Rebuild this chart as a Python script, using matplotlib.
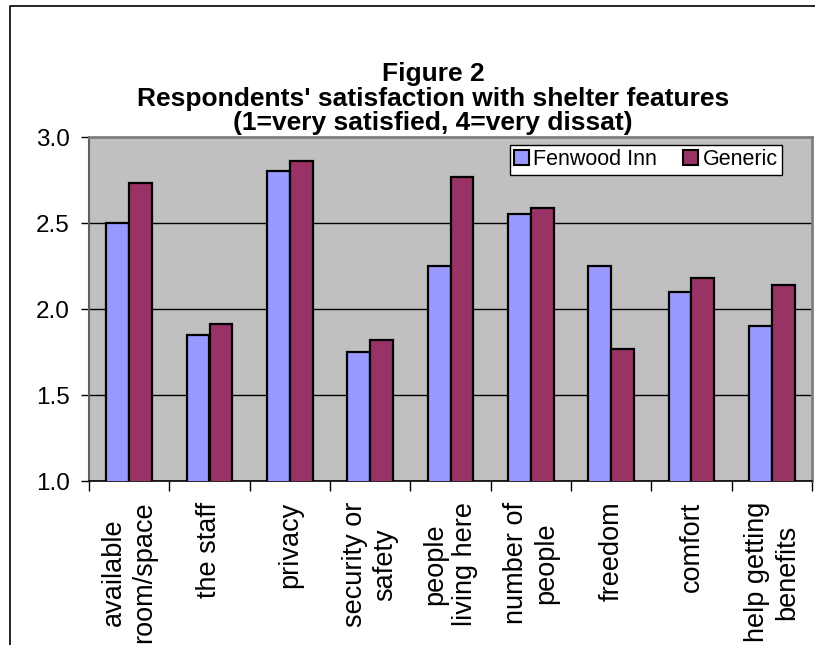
import numpy as np
import matplotlib
matplotlib.use("Agg")
import matplotlib.pyplot as plt
from matplotlib.patches import Patch
from matplotlib.lines import Line2D

# data
categories = ["available\nroom/space", "the staff", "privacy", "security or\nsafety",
              "people\nliving here", "number of\npeople", "freedom", "comfort",
              "help getting\nbenefits"]
fenwood = [2.50, 1.85, 2.80, 1.75, 2.25, 2.55, 2.25, 2.10, 1.90]
generic = [2.73, 1.91, 2.86, 1.82, 2.77, 2.59, 1.77, 2.18, 2.14]
series_names = ["Fenwood Inn", "Generic"]
yticks = [1.0, 1.5, 2.0, 2.5, 3.0]

BLUE = "#9999FF"
MAROON = "#993366"
PLOT_BG = "#C0C0C0"

plt.rcParams['font.family'] = ['Liberation Sans', 'DejaVu Sans']

W, H = 815, 645
fig = plt.figure(figsize=(W / 100, H / 100), dpi=100)
fig.patch.set_facecolor("white")

# plot area in pixels: left 89, right 812, top 137, bottom 481
ax = fig.add_axes([89 / W, 1 - 481 / H, (812 - 89) / W, (481 - 137) / H])
ax.set_facecolor(PLOT_BG)

x = np.arange(len(categories))
w = 1 / 3.5
ax.bar(x - w / 2, fenwood, w, bottom=0, color=BLUE, edgecolor="black", linewidth=1.6, zorder=3)
ax.bar(x + w / 2, generic, w, bottom=0, color=MAROON, edgecolor="black", linewidth=1.6, zorder=3)

ax.set_ylim(1.0, 3.0)
ax.set_xlim(-0.5, len(categories) - 0.5)
ax.set_yticks(yticks)
ax.set_yticklabels([f"{v:.1f}" for v in yticks])
ax.yaxis.grid(True, color="black", linewidth=1.0, zorder=1)
ax.set_axisbelow(True)

# ticks at category boundaries, labels at centres
ax.set_xticks(np.arange(-0.5, len(categories), 1))
ax.set_xticklabels([])
ax.set_xticks(x, minor=True)
ax.set_xticklabels(categories, minor=True, rotation=90, ha="center", va="top",
                   multialignment="center", fontsize=19.5, linespacing=1.2)
ax.tick_params(axis="x", which="major", length=7, width=1, direction="out")
ax.tick_params(axis="x", which="minor", length=0, pad=15)
ax.tick_params(axis="y", length=6, width=1, direction="out", pad=8, labelsize=17.5)

for side in ["top", "right"]:
    ax.spines[side].set_color("#808080")
    ax.spines[side].set_linewidth(2)
ax.spines["left"].set_color("#606060")
ax.spines["left"].set_linewidth(1.5)
ax.spines["bottom"].set_color("black")
ax.spines["bottom"].set_linewidth(1.2)

handles = [Patch(facecolor=BLUE, edgecolor="black", linewidth=1.5),
           Patch(facecolor=MAROON, edgecolor="black", linewidth=1.5)]
leg = ax.legend(handles, series_names, loc="upper right", bbox_to_anchor=(0.9585, 0.977),
                ncol=2, fontsize=15.5, frameon=True, fancybox=False, framealpha=1,
                edgecolor="black", borderpad=0.2, handlelength=0.7, handleheight=0.7,
                handletextpad=0.2, columnspacing=1.2, borderaxespad=0)
leg.get_frame().set_linewidth(1.0)

# title, three lines
title_lines = ["Figure 2", "Respondents' satisfaction with shelter features",
               "(1=very satisfied, 4=very dissat)"]
for line, ypix in zip(title_lines, [74, 99, 123]):
    fig.text(433 / W, 1 - ypix / H, line, ha="center", va="center",
             fontsize=19, fontweight="bold")

# chart frame (cut off at right and bottom in the reference)
fig.add_artist(Line2D([10 / W, 10 / W, 1.0], [0.0, 1 - 6 / H, 1 - 6 / H],
                      transform=fig.transFigure, color="black", linewidth=1.2))

fig.savefig("out.png", dpi=100)
